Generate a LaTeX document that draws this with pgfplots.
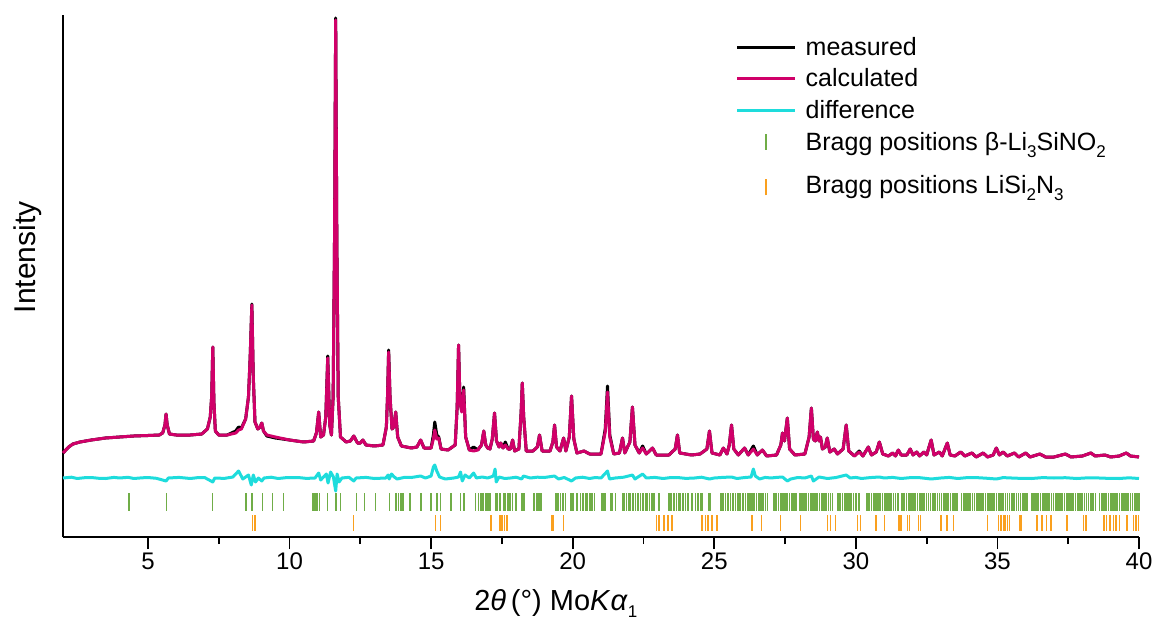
\documentclass[border=0pt]{standalone}
\usepackage{pgfplots}
\pgfplotsset{compat=1.18}
\usepackage{pgfplotstable}
\usepackage{fontspec}
\setmainfont{Liberation Sans}
\definecolor{calcc}{RGB}{208,0,105}
\definecolor{diffc}{RGB}{30,220,220}
\definecolor{brg}{RGB}{112,173,71}
\definecolor{bro}{RGB}{250,160,30}
\newcommand{\sub}[1]{\raisebox{-7pt}{\fontsize{17}{20}\selectfont #1}}

\pgfplotstableread{
x meas calc
2.00 84 84
2.10 87 87
2.20 90 90
2.35 93 93
2.60 95 95
3.00 97 97
3.50 99 99
4.00 100 100
4.50 101 101
5.00 101.5 101.5
5.40 102 102
5.52 104 104
5.60 112 112
5.64 123 123
5.68 112 112
5.76 103 103
6.00 102 102
6.50 102 102
6.90 103 103
7.10 108 108
7.20 120 120
7.25 140 140
7.29 190 190
7.33 135 135
7.38 106 106
7.50 102 102
7.80 102 102
8.10 106 104
8.20 110 107
8.30 109 108
8.45 118 118
8.55 140 140
8.61 180 180
8.67 233 232
8.72 160 160
8.78 115 115
8.88 108 108
8.96 110 110
9.02 114 114
9.08 106 106
9.20 101 102
9.50 99 100
10.00 97 97
10.50 95 95
10.85 96 96
10.95 104 104
11.03 125 125
11.10 100 100
11.20 102 102
11.28 120 120
11.35 181 179
11.42 112 112
11.48 102 102
11.54 140 140
11.59 300 300
11.63 519 517
11.67 300 300
11.72 140 140
11.80 100 100
12.00 95 95
12.15 96 96
12.27 101 101
12.40 94 94
12.50 94 94
12.59 97 97
12.70 92 92
13.00 91 91
13.30 92 92
13.42 110 110
13.46 140 140
13.50 187 185
13.55 140 140
13.62 108 108
13.68 110 110
13.75 125 125
13.82 100 100
13.95 91 91
14.30 89 89
14.50 90 90
14.63 97 97
14.75 89 89
15.00 89 89
15.08 102 98
15.13 115 107
15.20 102 98
15.27 100 99
15.35 88 88
15.60 87 87
15.85 92 92
15.92 130 130
15.97 192 192
16.02 135 135
16.08 127 125
16.15 150 147
16.22 100 100
16.35 87 87
16.50 90 86
16.65 87 87
16.78 92 92
16.86 106 106
16.93 92 92
17.00 89 89
17.08 88 88
17.16 98 98
17.24 124 124
17.31 96 96
17.40 90 90
17.46 94 94
17.54 89 89
17.62 95 92
17.72 88 88
17.80 88 88
17.88 97 97
17.95 86 86
18.10 88 88
18.18 125 125
18.22 154 154
18.27 120 120
18.36 86 86
18.60 86 86
18.75 90 90
18.83 102 102
18.92 86 86
19.20 86 86
19.30 95 95
19.36 112 112
19.43 90 90
19.55 86 86
19.68 99 99
19.76 86 86
19.88 100 100
19.96 141 141
20.04 98 98
20.15 84 84
20.40 86 86
20.60 83 83
21.00 83 83
21.15 108 105
21.23 151 145
21.31 102 100
21.45 83 83
21.65 84 84
21.76 99 99
21.84 84 84
22.02 95 95
22.11 130 130
22.20 92 92
22.35 84 84
22.47 91 89
22.60 83 83
22.82 89 89
22.95 82 82
23.40 82 82
23.62 88 88
23.70 102 102
23.78 84 84
24.20 82 82
24.50 83 83
24.74 88 88
24.83 106 106
24.92 84 84
25.20 82 82
25.32 89 89
25.45 83 83
25.53 92 92
25.61 112 112
25.69 88 88
25.85 82 82
26.07 89 89
26.20 82 82
26.38 91 88
26.52 82 82
26.70 87 87
26.85 81 81
27.20 82 82
27.35 92 92
27.41 104 104
27.48 96 96
27.58 119 119
27.66 88 88
27.85 82 82
28.20 83 83
28.35 100 100
28.43 129 129
28.50 98 98
28.57 96 96
28.64 105 105
28.70 96 96
28.75 100 100
28.82 88 88
28.92 90 90
28.99 99 99
29.08 85 85
29.24 88 88
29.35 83 83
29.55 88 88
29.66 112 112
29.75 86 86
29.95 81 81
30.12 86 85
30.25 81 81
30.44 90 90
30.55 82 82
30.72 85 85
30.83 95 95
30.95 83 83
31.15 81 81
31.30 84 84
31.40 81 81
31.50 87 87
31.60 82 82
31.80 82 82
31.92 88 88
32.02 82 82
32.15 85 85
32.25 81 81
32.40 85 85
32.50 82 82
32.66 97 97
32.76 82 82
32.95 85 85
33.05 81 81
33.23 94 94
33.33 82 82
33.50 81 81
33.70 85 85
33.85 81 81
34.10 84 84
34.25 80 80
34.50 84 84
34.65 80 80
34.85 82 82
34.96 89 89
35.07 82 82
35.20 85 85
35.35 81 81
35.60 84 84
35.75 80 80
36.00 84 84
36.15 80 80
36.50 83 83
36.70 80 80
37.00 80 80
37.40 83 83
37.60 80 80
38.00 81 81
38.30 84 84
38.45 81 81
38.80 82 82
39.00 80 80
39.30 81 81
39.55 84 84
39.70 81 81
40.00 80 80
}\pattern

\pgfplotstableread{
x d
2.00 59
2.30 59.8
2.50 58.5
2.80 59.4
3.00 59.5
3.30 58.6
3.50 58.5
3.80 59.6
4.00 59
4.30 59.7
4.50 58.5
4.80 59.2
5.00 59.5
5.30 58.7
5.64 56
5.72 59
6.10 59.6
6.50 58.5
6.80 59.5
7.00 59.5
7.29 55
7.36 59
7.70 58.6
8.00 60
8.20 66
8.35 58
8.55 62
8.65 52
8.72 62
8.80 55
8.90 59
9.02 56
9.10 59
9.35 59.8
9.60 58.5
9.90 59.4
10.30 59.5
10.60 58.6
10.90 59
11.03 64
11.10 57
11.30 63
11.36 54
11.45 65
11.55 60
11.63 46
11.68 63
11.75 55
11.85 59
12.10 59.7
12.27 56
12.35 59
12.70 59.6
13.00 58.5
13.40 59
13.48 62
13.52 58
13.60 63
13.70 60
13.80 58
14.05 59.6
14.30 59.5
14.63 61
14.80 59
15.00 61
15.08 70
15.13 72
15.20 66
15.30 60
15.50 58
15.80 59
15.97 60
16.04 65
16.10 56
16.20 62
16.35 59
16.50 64
16.60 59
16.80 60
17.00 59
17.20 61
17.26 68
17.30 55
17.40 60
17.60 58.5
17.80 59
18.00 59.8
18.20 58
18.26 61
18.50 59
18.75 59.8
19.00 59.5
19.36 61
19.50 58
19.70 59.5
19.96 56
20.10 59
20.35 59.8
20.60 58.5
20.80 59.5
21.00 59
21.23 66
21.30 58
21.50 59
21.80 59.8
22.11 62
22.20 58
22.47 63
22.60 59
22.90 59.6
23.20 58.5
23.45 59.4
23.70 59.5
24.00 58.6
24.30 59
24.55 59.8
24.83 58
25.00 59
25.30 59.6
25.61 60
25.80 58.5
26.05 59.4
26.30 60
26.38 68
26.45 61
26.60 58
26.80 59.6
27.00 59
27.20 59.6
27.41 60
27.58 56
27.70 58
27.95 59.5
28.20 59
28.43 61
28.50 56
28.70 60
29.00 58.5
29.30 59.5
29.66 62
29.80 59
30.00 59.6
30.20 58.5
30.50 59.4
30.83 60
31.00 59
31.30 59.6
31.60 58.5
31.90 59.3
32.20 59.5
32.45 58.7
32.66 58
33.00 59
33.30 59.6
33.60 58.5
33.90 59.3
34.20 59.5
34.60 58.8
34.96 58
35.20 59.4
35.50 59
35.85 58.6
36.20 58.5
36.60 59.4
37.00 59
37.40 59.3
37.80 58.5
38.20 59.2
38.60 59
38.95 58.6
39.30 58.5
39.65 59.2
40.00 58.5
}\difftab

\begin{document}
\begin{tikzpicture}
\useasboundingbox (-63pt,-85pt) rectangle (1094pt,537pt);
\begin{axis}[
  scale only axis,
  width=1076pt, height=522pt,
  xmin=2, xmax=40, ymin=0, ymax=522,
  clip=false,
  axis x line*=bottom, axis y line*=left,
  axis line style={line width=2pt, black},
  xtick={5,10,...,40},
  minor x tick num=1,
  ytick=\empty,
  tick align=outside,
  major tick length=12pt, minor tick length=7pt,
  every tick/.style={black, line width=1.8pt},
  /pgf/number format/assume math mode=true,
  ticklabel style={font=\fontsize{24}{28}\selectfont},
  xlabel={2\textit{θ}\,(°) Mo\textit{K}\textit{α}\sub{1}},
  xlabel style={font=\fontsize{29}{34}\selectfont, at={(axis description cs:0.458,0)}, anchor=base, yshift=-73pt},
  ylabel={Intensity},
  ylabel style={font=\fontsize{30}{36}\selectfont, at={(axis description cs:-0.033,0.536)}, anchor=center},
  legend style={at={(axis cs:25.75,502)}, anchor=north west, draw=none, fill=none,
    font=\fontsize{25}{30}\selectfont, row sep=8pt, inner sep=0pt},
  legend cell align=left,
  /tikz/every odd column/.append style={column sep=7pt},
]
\addplot[black, line width=3pt, line join=round,
  legend image code/.code={\draw[black, line width=3pt] (0pt,0pt) -- (58pt,0pt);}]
  table[x=x, y=meas] {\pattern};
\addlegendentry{measured}
\addplot[calcc, line width=3pt, line join=round,
  legend image code/.code={\draw[calcc, line width=3pt] (0pt,0pt) -- (58pt,0pt);}]
  table[x=x, y=calc] {\pattern};
\addlegendentry{calculated}
\addplot[diffc, line width=3pt, line join=round,
  legend image code/.code={\draw[diffc, line width=3pt] (0pt,0pt) -- (58pt,0pt);}]
  table[x=x, y=d] {\difftab};
\addlegendentry{difference}
\addplot[brg, only marks, mark=|, mark size=9pt, mark options={line width=1.7pt},
  legend image code/.code={\draw[brg, line width=1.5pt] (29pt,-8pt) -- (29pt,8pt);}]
  coordinates {
(4.32,35)(5.65,35)(7.28,35)(8.47,35)(8.68,35)(9.05,35)(9.40,35)(9.79,35)(10.82,35)(10.90,35)(10.98,35)(11.06,35)(11.34,35)(11.65,35)(11.80,35)(12.37,35)(12.65,35)(13.04,35)(13.53,35)(13.75,35)(13.85,35)(13.93,35)(14.00,35)(14.25,35)(14.65,35)(14.99,35)(15.22,35)(15.33,35)(15.71,35)(16.04,35)(16.16,35)(16.57,35)(16.67,35)(16.75,35)(16.83,35)(16.93,35)(17.02,35)(17.08,35)(17.28,35)(17.34,35)(17.43,35)(17.57,35)(17.63,35)(17.71,35)(17.78,35)(17.87,35)(17.99,35)(18.22,35)(18.28,35)(18.63,35)(18.73,35)(18.81,35)(18.87,35)(19.40,35)(19.48,35)(19.57,35)(19.65,35)(19.75,35)(19.95,35)(20.01,35)(20.14,35)(20.28,35)(20.37,35)(20.46,35)(20.51,35)(20.61,35)(20.69,35)(20.77,35)(21.04,35)(21.10,35)(21.16,35)(21.34,35)(21.40,35)(21.51,35)(21.78,35)(21.83,35)(21.90,35)(21.98,35)(22.04,35)(22.14,35)(22.22,35)(22.30,35)(22.40,35)(22.49,35)(22.57,35)(22.63,35)(22.71,35)(22.81,35)(22.86,35)(23.04,35)(23.39,35)(23.48,35)(23.57,35)(23.67,35)(23.75,35)(23.81,35)(23.90,35)(23.98,35)(24.07,35)(24.22,35)(24.34,35)(24.42,35)(24.51,35)(24.57,35)(24.81,35)(24.87,35)(25.24,35)(25.31,35)(25.40,35)(25.48,35)(25.57,35)(25.67,35)(25.75,35)(25.83,35)(25.92,35)(26.02,35)(26.10,35)(26.18,35)(26.25,35)
(26.33,35)(26.41,35)(26.49,35)(26.57,35)(26.65,35)(26.73,35)(26.81,35)(26.88,35)(27.12,35)(27.19,35)(27.27,35)(27.35,35)(27.43,35)(27.51,35)(27.58,35)(27.66,35)(27.74,35)(27.82,35)(27.89,35)(28.02,35)(28.09,35)(28.17,35)(28.25,35)(28.33,35)(28.41,35)(28.48,35)(28.56,35)(28.64,35)(28.72,35)(28.80,35)(28.87,35)(28.95,35)(29.03,35)(29.11,35)(29.18,35)(29.38,35)(29.45,35)(29.53,35)(29.61,35)(29.69,35)(29.77,35)(29.84,35)(29.92,35)(30.00,35)(30.12,35)
(30.40,35)(30.47,35)(30.55,35)(30.63,35)(30.71,35)(30.78,35)(30.86,35)(30.94,35)(31.02,35)(31.09,35)(31.17,35)(31.25,35)(31.33,35)(31.40,35)(31.48,35)(31.64,35)(31.71,35)(31.79,35)(31.87,35)(31.95,35)(32.02,35)(32.10,35)(32.18,35)(32.26,35)(32.33,35)(32.41,35)(32.49,35)(32.57,35)(32.64,35)(32.72,35)(32.80,35)(32.88,35)(32.95,35)(33.03,35)(33.11,35)(33.19,35)(33.26,35)(33.34,35)(33.42,35)(33.50,35)(33.57,35)(33.73,35)(33.81,35)(33.88,35)(33.96,35)(34.04,35)(34.12,35)(34.19,35)(34.27,35)(34.35,35)(34.43,35)(34.50,35)(34.58,35)(34.66,35)(34.74,35)(34.81,35)(34.89,35)(34.97,35)(35.05,35)(35.12,35)(35.20,35)(35.28,35)(35.36,35)(35.43,35)(35.51,35)(35.59,35)(35.67,35)(35.74,35)(35.82,35)(35.90,35)(35.98,35)(36.05,35)(36.21,35)(36.29,35)(36.36,35)(36.44,35)(36.52,35)(36.60,35)(36.67,35)(36.75,35)(36.83,35)(36.91,35)(36.98,35)(37.06,35)(37.14,35)(37.22,35)(37.29,35)(37.37,35)(37.45,35)(37.53,35)(37.60,35)(37.68,35)(37.76,35)(37.84,35)(37.91,35)(37.99,35)(38.07,35)(38.15,35)(38.22,35)(38.30,35)(38.38,35)(38.46,35)(38.61,35)(38.69,35)(38.77,35)(38.84,35)(38.92,35)(39.00,35)(39.08,35)(39.15,35)(39.23,35)(39.31,35)(39.39,35)(39.46,35)(39.54,35)(39.62,35)(39.70,35)(39.77,35)(39.85,35)(39.93,35)(40.00,35)
  };
\addlegendentry{Bragg positions β-Li\sub{3}SiNO\sub{2}}
\addplot[bro, only marks, mark=|, mark size=8pt, mark options={line width=1.5pt},
  legend image code/.code={\path (29pt,16pt); \draw[bro, line width=1.5pt] (29pt,-16pt) -- (29pt,0pt);}]
  coordinates {
(8.69,14)(8.78,14)(12.26,14)(15.16,14)(15.34,14)(17.12,14)(17.44,14)(17.51,14)(17.60,14)(17.68,14)(19.26,14)(19.30,14)(19.67,14)(22.96,14)(23.04,14)(23.22,14)(23.36,14)(23.51,14)(24.57,14)(24.69,14)(24.77,14)(24.92,14)(25.10,14)(26.34,14)(26.66,14)(27.34,14)(28.04,14)(29.00,14)(29.10,14)(29.28,14)(30.06,14)(30.16,14)(30.71,14)(31.02,14)(31.52,14)(31.59,14)(31.83,14)(31.90,14)(32.22,14)(32.28,14)(33.01,14)(33.22,14)(33.45,14)(34.65,14)(35.04,14)(35.12,14)(35.21,14)(35.27,14)(35.36,14)(35.43,14)(35.78,14)(35.84,14)(36.39,14)(36.57,14)(36.74,14)(36.89,14)(37.45,14)(38.04,14)(38.12,14)(38.77,14)(38.86,14)(38.98,14)(39.10,14)(39.18,14)(39.31,14)(39.57,14)(39.80,14)(39.90,14)(39.98,14)
  };
\addlegendentry{\rule{0pt}{30pt}Bragg positions LiSi\sub{2}N\sub{3}}
\end{axis}
\end{tikzpicture}
\end{document}
